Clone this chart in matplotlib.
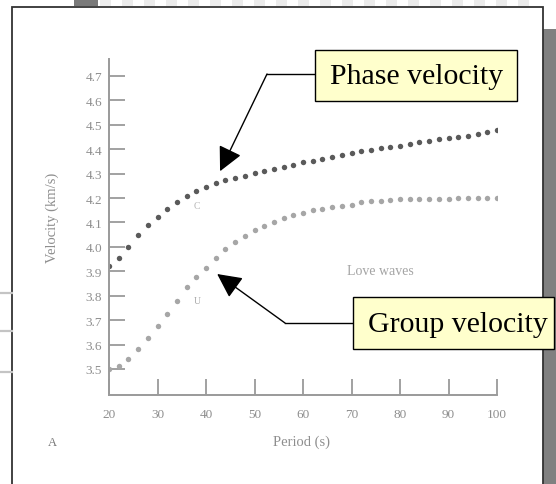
import matplotlib
matplotlib.use("Agg")
import matplotlib.pyplot as plt
from matplotlib.patches import Rectangle

# Love-wave dispersion: period (s) against velocity (km/s)
period = [20, 22, 24, 26, 28, 30, 32, 34, 36, 38, 40, 42, 44, 46, 48, 50, 52, 54,
          56, 58, 60, 62, 64, 66, 68, 70, 72, 74, 76, 78, 80, 82, 84, 86, 88, 90,
          92, 94, 96, 98, 100]
phase_velocity = [3.922, 3.955, 4.000, 4.049, 4.090, 4.123, 4.155, 4.184, 4.209,
                  4.229, 4.245, 4.262, 4.274, 4.282, 4.292, 4.302, 4.311, 4.319,
                  4.329, 4.336, 4.347, 4.351, 4.359, 4.367, 4.375, 4.383, 4.392,
                  4.398, 4.404, 4.411, 4.415, 4.422, 4.428, 4.434, 4.442, 4.445,
                  4.451, 4.456, 4.464, 4.472, 4.479]
group_velocity = [3.500, 3.514, 3.541, 3.582, 3.626, 3.678, 3.724, 3.779, 3.834,
                  3.876, 3.912, 3.954, 3.992, 4.020, 4.044, 4.071, 4.087, 4.103,
                  4.120, 4.131, 4.139, 4.151, 4.157, 4.162, 4.168, 4.173, 4.182,
                  4.186, 4.190, 4.193, 4.195, 4.196, 4.196, 4.196, 4.197, 4.198,
                  4.199, 4.200, 4.200, 4.200, 4.200]
x_ticks = [20, 30, 40, 50, 60, 70, 80, 90, 100]
y_ticks = [3.5, 3.6, 3.7, 3.8, 3.9, 4.0, 4.1, 4.2, 4.3, 4.4, 4.5, 4.6, 4.7]
phase_label = "Phase velocity"
group_label = "Group velocity"

W, H = 556, 485
DPI = 100
fig = plt.figure(figsize=(W / DPI, H / DPI), dpi=DPI)
fig.patch.set_facecolor("white")


def fbox(x0, y0, x1, y1):
    """Pixel box (top-left origin) to figure fraction [left, bottom, width, height]."""
    return [x0 / W, 1 - y1 / H, (x1 - x0) / W, (y1 - y0) / H]


serif = ["Liberation Serif", "DejaVu Serif"]
soft = "#8e8e8e"

# ---- the scanned dispersion plot ----
ax = fig.add_axes(fbox(109, 60, 497, 396))
ax.set_xlim(20, 100)
ax.set_ylim(3.3935, 4.7696)
ax.patch.set_alpha(0)
for s in ("top", "right"):
    ax.spines[s].set_visible(False)
for s in ("left", "bottom"):
    ax.spines[s].set_color("#9a9a9a")
    ax.spines[s].set_linewidth(1.4)

ax.plot(period, phase_velocity, linestyle="none", marker="o", markersize=3.9,
        color="#5a5a5a", markeredgewidth=0)
ax.plot(period, group_velocity, linestyle="none", marker="o", markersize=3.9,
        color="#a6a6a6", markeredgewidth=0)

ax.set_xticks(x_ticks)
ax.set_xticklabels([str(t) for t in x_ticks])
ax.set_yticks(y_ticks)
ax.set_yticklabels([f"{t:.1f}" for t in y_ticks])
ax.tick_params(axis="both", direction="in", length=11.5, width=1.3, color="#9a9a9a",
               labelcolor=soft, labelsize=9.5)
ax.tick_params(axis="x", pad=9.5)
ax.tick_params(axis="y", pad=5)
for lbl in ax.get_xticklabels() + ax.get_yticklabels():
    lbl.set_family(serif)

ax.set_xlabel("Period (s)", family=serif, fontsize=10.5, color=soft)
ax.set_ylabel("Velocity (km/s)", family=serif, fontsize=10.5, color=soft)
ax.xaxis.set_label_coords(0.497, -0.119)
ax.yaxis.set_label_coords(-0.128, 0.53)
ax.text(0.70, 0.37, "Love waves", transform=ax.transAxes, family=serif,
        fontsize=10, color="#a4a4a4", ha="center", va="center")
ax.text(38.2, 4.17, "C", family=serif, fontsize=7, color="#b8b8b8",
        ha="center", va="center")
ax.text(38.2, 3.78, "U", family=serif, fontsize=7, color="#a8a8a8",
        ha="center", va="center")
fig.text(52 / W, 1 - 443 / H, "A", family=serif, fontsize=9, color="#777777",
         ha="center", va="center")

# ---- page furniture in pixel coordinates ----
ov = fig.add_axes([0, 0, 1, 1], zorder=5)
ov.set_xlim(0, W)
ov.set_ylim(H, 0)
ov.axis("off")
ov.patch.set_alpha(0)

# dashed strip above the frame
for x0 in range(100, 535, 22):
    ov.add_patch(Rectangle((x0, 0), 11, 7, facecolor="#ececec", edgecolor="none"))
ov.add_patch(Rectangle((74, 0), 24, 7, facecolor="#7a7a7a", edgecolor="none"))
# grey bar on the right
ov.add_patch(Rectangle((543, 30), 13, H - 30, facecolor="#808080", edgecolor="none"))
# frame
ov.plot([12, 12, 543, 543], [H, 8, 8, H], color="#333333", linewidth=1.3,
        solid_joinstyle="miter")
# stray rules in the left margin
for yy in (294, 332, 373):
    ov.plot([0, 12], [yy, yy], color="#c4c4c4", linewidth=1.6)

callout_face = "#ffffcc"


def callout(box, text, text_x, elbow, tip):
    x0, y0, x1, y1 = box
    ov.add_patch(Rectangle((x0, y0), x1 - x0, y1 - y0, facecolor=callout_face,
                           edgecolor="black", linewidth=1.0, zorder=6))
    ov.text(text_x, (y0 + y1) / 2 + 1, text, family=serif, fontsize=21.5,
            color="black", ha="left", va="center", zorder=7)
    ov.plot([x0, elbow[0]], [elbow[1], elbow[1]], color="black", linewidth=1.0)
    ov.annotate("", xy=tip, xycoords=ax.transData, xytext=elbow,
                textcoords=ov.transData, annotation_clip=False,
                arrowprops=dict(arrowstyle="-|>,head_length=1.0,head_width=0.5",
                                mutation_scale=15, color="black", linewidth=1.0,
                                shrinkA=0, shrinkB=0))


callout((315, 51, 517, 102), phase_label, 330, (267, 75), (42.9, 4.31))
callout((353, 298, 554, 350), group_label, 368, (285, 324), (42.3, 3.889))

fig.savefig("out.png", dpi=DPI)
